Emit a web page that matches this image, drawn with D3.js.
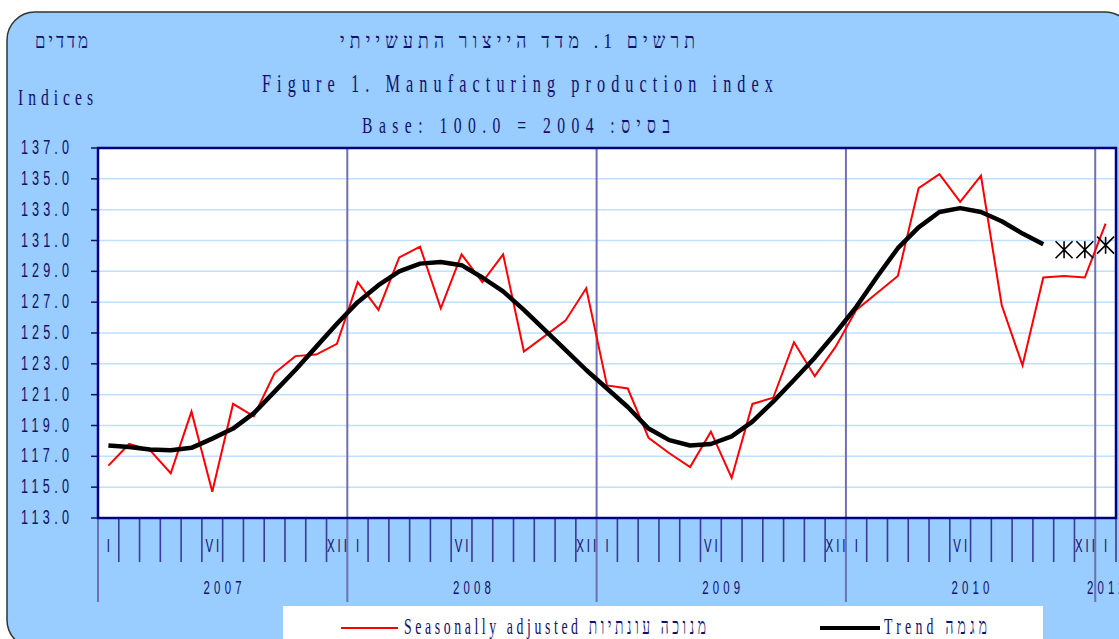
<!DOCTYPE html>
<html lang="he">
<head>
<meta charset="UTF-8">
<title>Manufacturing production index</title>
<style>
  body { margin: 0; background: #fff; }
  svg { display: block; }
</style>
</head>
<body>
<div id="chart"></div>
<script src="https://d3js.org/d3.v7.min.js"></script>
<script>
// monthly values, Jan 2007 .. Jan 2011
var years = ["2007", "2008", "2009", "2010", "2011"];
var monthLabels = ["I", "", "", "", "", "VI", "", "", "", "", "", "XII"];
var yTicks = [113, 115, 117, 119, 121, 123, 125, 127, 129, 131, 133, 135, 137];

var seasonal = [116.4, 117.8, 117.4, 115.9, 119.9, 114.7, 120.4, 119.6, 122.4, 123.5, 123.6, 124.3,
                128.3, 126.5, 129.9, 130.6, 126.6, 130.1, 128.3, 130.1, 123.8, 124.8, 125.8, 127.9,
                121.6, 121.4, 118.2, 117.2, 116.3, 118.6, 115.6, 120.4, 120.8, 124.4, 122.2, 124.1,
                126.5, 127.6, 128.7, 134.4, 135.3, 133.5, 135.2, 126.8, 122.9, 128.6, 128.7, 128.6,
                132.1];
var trend = [117.7, 117.6, 117.45, 117.4, 117.55, 118.15, 118.8, 119.8, 121.2, 122.6, 124.1, 125.6,
             127.0, 128.1, 129.0, 129.5, 129.6, 129.4, 128.6, 127.7, 126.5, 125.2, 123.9, 122.6,
             121.4, 120.2, 118.8, 118.05, 117.7, 117.8, 118.3, 119.25, 120.55, 121.95, 123.4, 125.0,
             126.7, 128.65, 130.5, 131.85, 132.85, 133.1, 132.85, 132.25, 131.45, 130.75];
var trendStars = [130.4, 130.4, 130.7];   // months 46-48, no trend yet

var navy = "#10106e";
var serif = "'Liberation Serif', 'Times New Roman', serif";
var sans = "'Liberation Sans', Arial, sans-serif";

var W = 1119, H = 639;
var plotL = 98, plotR = 1116, plotT = 148, plotB = 518;
var nMonths = seasonal.length;

var svg = d3.select("#chart").append("svg")
    .attr("width", W).attr("height", H);

var x = d3.scaleLinear().domain([0, nMonths]).range([plotL, plotR]);
var y = d3.scaleLinear().domain([113, 137]).range([plotB, plotT]);

// panel
svg.append("rect")
    .attr("x", 7).attr("y", 12)
    .attr("width", 1126).attr("height", 636)
    .attr("rx", 28).attr("ry", 28)
    .attr("fill", "#99ccff")
    .attr("stroke", "#333").attr("stroke-width", 1.5);

function txt(s, px, py, o) {
    var g = svg.append("g")
        .attr("transform", "translate(" + px + "," + py + ") scale(" + (o.sx || 1) + ",1)");
    var t = g.append("text").text(s)
        .attr("font-family", o.ff)
        .attr("font-size", o.fs)
        .attr("text-anchor", o.anchor || "start")
        .attr("fill", o.fill || navy);
    if (o.w) t.attr("textLength", o.w / (o.sx || 1)).attr("lengthAdjust", "spacing");
    if (o.ls) t.style("letter-spacing", o.ls + "px");
    return t;
}

// titles
txt("מדדים", 35, 48, {ff: serif, fs: 21, sx: 0.8, w: 53});
txt("Indices", 18, 105, {ff: serif, fs: 24, sx: 0.65, w: 75});
txt("תרשים 1. מדד הייצור התעשייתי", 340, 48, {ff: serif, fs: 22, sx: 0.8, w: 355});
txt("Figure 1. Manufacturing production index", 262, 92, {ff: serif, fs: 25, sx: 0.65, w: 511});
txt("Base: 100.0 = 2004 :בסיס", 362, 133, {ff: serif, fs: 23, sx: 0.68, w: 308});

// plot area
svg.append("rect")
    .attr("x", plotL).attr("y", plotT)
    .attr("width", plotR - plotL).attr("height", plotB - plotT)
    .attr("fill", "#fff");

svg.append("g").selectAll("line")
    .data(yTicks.slice(1, -1))
    .join("line")
    .attr("x1", plotL).attr("x2", plotR)
    .attr("y1", function(d) { return y(d); })
    .attr("y2", function(d) { return y(d); })
    .attr("stroke", "#bfe0ff").attr("stroke-width", 1.5);

// month ticks under the axis
var bounds = d3.range(0, nMonths + 1);
svg.append("g").selectAll("line")
    .data(bounds.filter(function(d) { return d % 12 != 0; }))
    .join("line")
    .attr("x1", function(d) { return x(d); })
    .attr("x2", function(d) { return x(d); })
    .attr("y1", plotB).attr("y2", 562)
    .attr("stroke", "#3a3a9c").attr("stroke-width", 1.6);

// year separators
svg.append("g").selectAll("line")
    .data(bounds.filter(function(d) { return d % 12 == 0; }))
    .join("line")
    .attr("x1", function(d) { return x(d); })
    .attr("x2", function(d) { return x(d); })
    .attr("y1", plotT).attr("y2", 602)
    .attr("stroke", "#6f6fb6").attr("stroke-width", 2);

// month labels
svg.append("g").selectAll("g")
    .data(d3.range(nMonths).filter(function(i) { return monthLabels[i % 12] != ""; }))
    .join("g")
    .attr("transform", function(i) { return "translate(" + (x(i + 0.5) + 1.5) + ",552) scale(0.6,1)"; })
    .append("text")
    .attr("text-anchor", "middle")
    .attr("font-family", sans).attr("font-size", 19)
    .attr("fill", navy)
    .style("letter-spacing", "5px")
    .text(function(i) { return monthLabels[i % 12]; });

// year labels, centred on the visible part of each year
svg.append("g").selectAll("g")
    .data(years)
    .join("g")
    .attr("transform", function(d, i) {
        var a = x(i * 12), b = x(Math.min((i + 1) * 12, nMonths));
        return "translate(" + ((a + b) / 2 + 2) + ",594) scale(0.6,1)";
    })
    .append("text")
    .attr("text-anchor", "middle")
    .attr("font-family", sans).attr("font-size", 19)
    .attr("fill", navy)
    .style("letter-spacing", "7px")
    .text(function(d) { return d; });

// y axis
svg.append("g").selectAll("line")
    .data(yTicks)
    .join("line")
    .attr("x1", 91).attr("x2", plotL)
    .attr("y1", function(d) { return y(d); })
    .attr("y2", function(d) { return y(d); })
    .attr("stroke", navy).attr("stroke-width", 1.5);

svg.append("g").selectAll("g")
    .data(yTicks)
    .join("g")
    .attr("transform", function(d) { return "translate(21," + (y(d) + 6) + ") scale(0.6,1)"; })
    .append("text")
    .attr("font-family", sans).attr("font-size", 21)
    .attr("fill", navy)
    .attr("textLength", 48 / 0.6).attr("lengthAdjust", "spacing")
    .text(function(d) { return d3.format(".1f")(d); });

// frame
svg.append("rect")
    .attr("x", plotL).attr("y", plotT)
    .attr("width", plotR - plotL).attr("height", plotB - plotT)
    .attr("fill", "none")
    .attr("stroke", "#000080").attr("stroke-width", 2.5);

// series
var line = d3.line()
    .x(function(d, i) { return x(i + 0.5); })
    .y(function(d) { return y(d); });

svg.append("path")
    .datum(seasonal)
    .attr("d", line)
    .attr("fill", "none")
    .attr("stroke", "#ff0000").attr("stroke-width", 2);

svg.append("path")
    .datum(trend)
    .attr("d", line)
    .attr("fill", "none")
    .attr("stroke", "#000").attr("stroke-width", 4.5)
    .attr("stroke-linejoin", "round");

var s = 8.5;
svg.append("g").selectAll("path")
    .data(trendStars)
    .join("path")
    .attr("transform", function(d, i) { return "translate(" + x(trend.length + i + 0.5) + "," + y(d) + ")"; })
    .attr("d", "M0," + (-s) + "V" + s + "M" + (-s) + "," + (-s) + "L" + s + "," + s + "M" + s + "," + (-s) + "L" + (-s) + "," + s)
    .attr("fill", "none")
    .attr("stroke", "#000").attr("stroke-width", 1.6);

// legend
svg.append("rect")
    .attr("x", 283).attr("y", 606)
    .attr("width", 760).attr("height", 40)
    .attr("fill", "#fff");

svg.append("line")
    .attr("x1", 341).attr("x2", 398).attr("y1", 628).attr("y2", 628)
    .attr("stroke", "#ff0000").attr("stroke-width", 2);
txt("Seasonally adjusted מנוכה עונתיות", 404, 634, {ff: serif, fs: 23, sx: 0.6, w: 302});

svg.append("line")
    .attr("x1", 820).attr("x2", 880).attr("y1", 628).attr("y2", 628)
    .attr("stroke", "#000").attr("stroke-width", 4);
txt("Trend מגמה", 884, 634, {ff: serif, fs: 23, sx: 0.6, w: 103});
</script>
</body>
</html>
